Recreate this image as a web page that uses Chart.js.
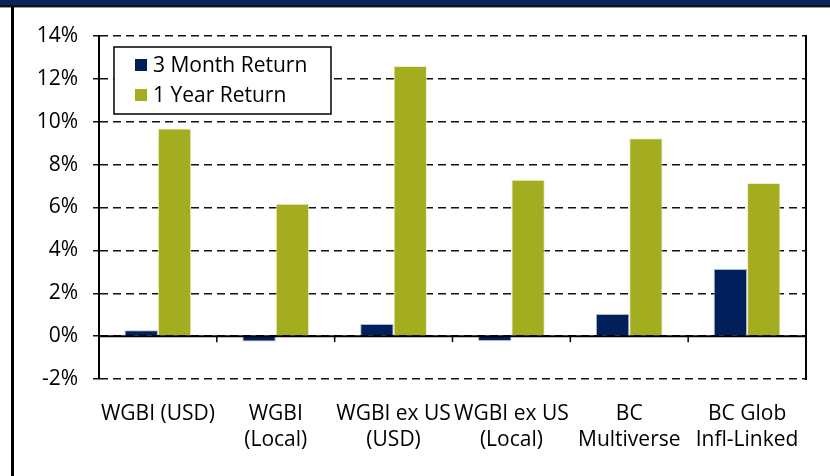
<!DOCTYPE html>
<html>
<head>
<meta charset="utf-8">
<script src="https://cdn.jsdelivr.net/npm/chart.js@4.4.1/dist/chart.umd.min.js"></script>
<style>
  html, body { margin: 0; padding: 0; background: #fff; }
  #wrap { position: relative; width: 830px; height: 476px; overflow: hidden; }
  #band { position: absolute; left: 0; top: 0; width: 830px; height: 5px; background: #0b2260; }
  #bandLine { position: absolute; left: 0; top: 5px; width: 830px; height: 2px; background: #111; }
  #bandLine2 { position: absolute; left: 0; top: 7px; width: 830px; height: 1px; background: #9a9a9a; }
  #leftEdge { position: absolute; left: 11px; top: 7px; width: 3px; height: 469px; background: #000; }
  #box { position: absolute; left: 0; top: 0; width: 830px; height: 476px; }
</style>
</head>
<body>
<div id="wrap">
  <div id="box"><canvas id="myChart" width="830" height="476"></canvas></div>
  <div id="band"></div>
  <div id="bandLine"></div>
  <div id="bandLine2"></div>
  <div id="leftEdge"></div>
</div>
<script>
// chart values (percent)
const categories = [
    ['WGBI (USD)'],
    ['WGBI', '(Local)'],
    ['WGBI ex US', '(USD)'],
    ['WGBI ex US', '(Local)'],
    ['BC', 'Multiverse'],
    ['BC Glob', 'Infl-Linked']
];
const seriesNames = ['3 Month Return', '1 Year Return'];
const threeMonth = [0.27, -0.25, 0.57, -0.23, 1.03, 3.13];
const oneYear = [9.68, 6.18, 12.6, 7.3, 9.23, 7.14];
const yTicks = [-2, 0, 2, 4, 6, 8, 10, 12, 14];

const navy = '#001f5b';
const olive = '#a3ad1f';
const fontName = "'Open Sans', 'Noto Sans', sans-serif";

// zero line, right frame, tick marks under the zero line and the boxed legend
const framePlugin = {
    id: 'framePlugin',
    afterDatasetsDraw(chart) {
        const ctx = chart.ctx;
        const area = chart.chartArea;
        const x = chart.scales.x;
        const y = chart.scales.y;
        const zero = y.getPixelForValue(0);
        ctx.save();
        ctx.strokeStyle = '#000';
        ctx.lineWidth = 2;
        ctx.beginPath();
        ctx.moveTo(area.left, zero);
        ctx.lineTo(area.right, zero);
        ctx.stroke();
        // right side of the plot box
        ctx.beginPath();
        ctx.moveTo(area.right, area.top - 1);
        ctx.lineTo(area.right, area.bottom + 1);
        ctx.stroke();
        // small ticks between the categories
        ctx.lineWidth = 1.5;
        for (let i = 1; i < categories.length; i++) {
            const px = (x.getPixelForTick(i - 1) + x.getPixelForTick(i)) / 2;
            ctx.beginPath();
            ctx.moveTo(px, zero);
            ctx.lineTo(px, zero + 6);
            ctx.stroke();
        }
        ctx.restore();
    },
    afterDraw(chart) {
        const ctx = chart.ctx;
        const area = chart.chartArea;
        const lx = area.left + 15;
        const ly = area.top + 11;
        ctx.save();
        ctx.fillStyle = '#fff';
        ctx.fillRect(lx, ly, 217, 67);
        ctx.strokeStyle = '#000';
        ctx.lineWidth = 1.5;
        ctx.strokeRect(lx, ly, 217, 67);
        ctx.font = '21px ' + fontName;
        ctx.textBaseline = 'middle';
        chart.data.datasets.forEach((ds, i) => {
            const cy = ly + 18 + i * 30;
            ctx.fillStyle = ds.backgroundColor;
            ctx.fillRect(lx + 21, cy - 6, 12, 12);
            ctx.fillStyle = '#000';
            ctx.fillText(ds.label, lx + 39, cy + 1);
        });
        ctx.restore();
    }
};

const ctx = document.getElementById('myChart').getContext('2d');
const chart = new Chart(ctx, {
    type: 'bar',
    data: {
        labels: categories,
        datasets: [
            {
                label: seriesNames[0],
                data: threeMonth,
                backgroundColor: navy,
                borderColor: 'rgba(150,165,200,0.8)',
                borderWidth: 1,
                categoryPercentage: 0.566,
                barPercentage: 1
            },
            {
                label: seriesNames[1],
                data: oneYear,
                backgroundColor: olive,
                borderColor: 'rgba(235,235,200,0.9)',
                borderWidth: 1,
                categoryPercentage: 0.566,
                barPercentage: 1
            }
        ]
    },
    options: {
        responsive: false,
        animation: false,
        layout: { padding: { top: 36, right: 24, left: 0, bottom: 0 } },
        plugins: {
            legend: { display: false },
            tooltip: { enabled: false }
        },
        scales: {
            x: {
                grid: { display: false },
                border: { display: false },
                ticks: {
                    color: '#000',
                    padding: 14,
                    maxRotation: 0,
                    autoSkip: false,
                    font: { family: fontName, size: 21, lineHeight: 1.24 }
                },
                afterFit(scale) { scale.height = 97; }
            },
            y: {
                min: -2,
                max: 14,
                afterBuildTicks(scale) { scale.ticks = yTicks.map(v => ({ value: v })); },
                grid: {
                    color: '#111',
                    lineWidth: 1.5,
                    tickLength: 6
                },
                border: { display: true, color: '#000', width: 2, dash: [8, 5] },
                ticks: {
                    color: '#000',
                    padding: 15,
                    font: { family: fontName, size: 21 },
                    callback: v => v + '%'
                },
                afterFit(scale) { scale.width = 99; }
            }
        }
    },
    plugins: [framePlugin]
});
</script>
</body>
</html>
